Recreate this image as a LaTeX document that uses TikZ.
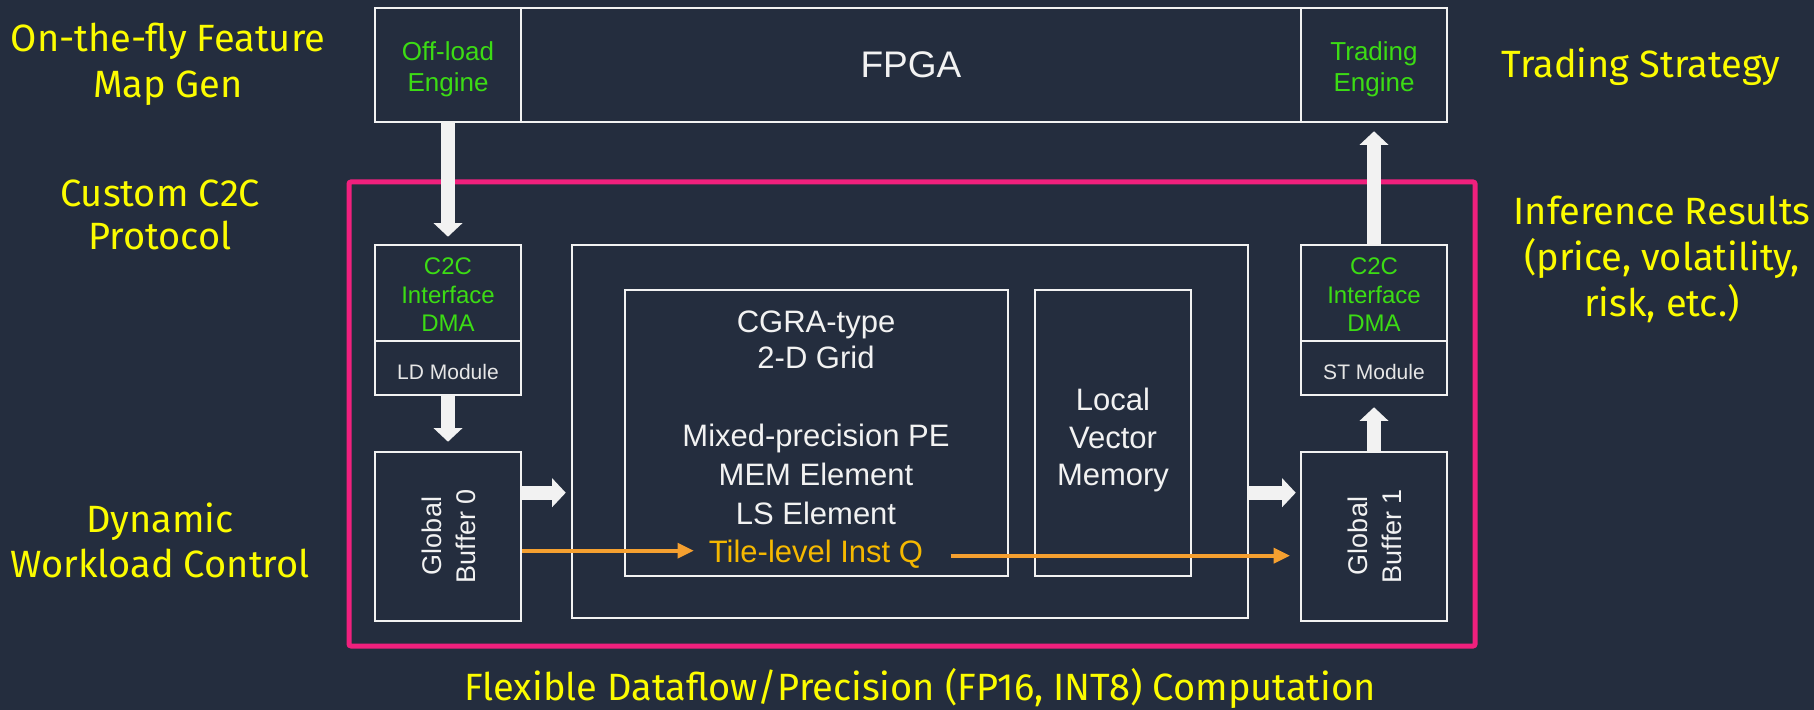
\documentclass[tikz,border=0pt]{standalone}
\usepackage{fontspec}
\setmainfont{Liberation Sans}
\newfontfamily\labelfont{Fira Sans}
\usetikzlibrary{arrows.meta}

\definecolor{bgnavy}{RGB}{36,45,62}
\definecolor{linewhite}{RGB}{242,242,242}
\definecolor{softwhite}{RGB}{230,230,230}
\definecolor{pinkc}{RGB}{240,32,125}
\definecolor{greenc}{RGB}{60,220,20}
\definecolor{yellowc}{RGB}{252,252,0}
\definecolor{orangec}{RGB}{245,160,48}
\definecolor{goldc}{RGB}{245,184,0}

\newcommand{\fsz}[2]{\fontsize{#1}{#2}\selectfont}

\begin{document}
\begin{tikzpicture}[x=0.5pt,y=-0.5pt,
  box/.style={draw=linewhite, line width=1.3pt, inner sep=0pt, align=center},
  wtext/.style={text=linewhite, inner sep=0pt, align=center},
  gtext/.style={text=greenc, inner sep=0pt, align=center},
  ylabel/.style={text=yellowc, inner sep=0pt, align=center},
  blockarrow/.style={draw=linewhite, line width=7pt,
    -{Triangle[width=14.5pt,length=6.8pt,line width=0pt]}},
  orangearrow/.style={draw=orangec, line width=2pt,
    -{Triangle[width=8pt,length=8pt,line width=0pt]}}
]
% canvas
\fill[bgnavy] (0,0) rectangle (1814,710);
\useasboundingbox (0,0) rectangle (1814,710);

% accelerator boundary
\draw[pinkc, line width=2.5pt, rounded corners=1pt] (349,182) rectangle (1475,646);

% FPGA row
\node[box, minimum width=536pt, minimum height=57pt, text=linewhite,
      font=\fsz{18.5}{22}] (fpga) at (911,65) {FPGA};
\node[box, minimum width=73pt, minimum height=57pt] (offload) at (448,65) {};
\node[gtext, font=\fsz{13}{15.5}] (offloadtext) at (448,69) {Off-load\\Engine};
\node[box, minimum width=73pt, minimum height=57pt] (trading) at (1374,65) {};
\node[gtext, font=\fsz{13}{15.5}] (tradingtext) at (1374,69) {Trading\\Engine};

% load side
\node[box, minimum width=73pt, minimum height=48pt] (c2cL) at (448,293) {};
\node[gtext, font=\fsz{12}{14.25}] (c2cLtext) at (448,295) {C2C\\Interface\\DMA};
\node[box, minimum width=73pt, minimum height=27pt] (ldmod) at (448,368) {};
\node[wtext, text=softwhite, font=\fsz{10.5}{12}] (ldtext) at (448,372) {LD Module};
\node[box, minimum width=73pt, minimum height=84.5pt] (gb0) at (448,536.5) {};
\node[wtext, rotate=90, font=\fsz{13.5}{17}] (gb0text) at (449,536) {Global\\Buffer 0};

% store side
\node[box, minimum width=73pt, minimum height=48pt] (c2cR) at (1374,293) {};
\node[gtext, font=\fsz{12}{14.25}] (c2cRtext) at (1374,295) {C2C\\Interface\\DMA};
\node[box, minimum width=73pt, minimum height=27pt] (stmod) at (1374,368) {};
\node[wtext, text=softwhite, font=\fsz{10.5}{12}] (sttext) at (1374,372) {ST Module};
\node[box, minimum width=73pt, minimum height=84.5pt] (gb1) at (1374,536.5) {};
\node[wtext, rotate=90, font=\fsz{13.5}{17}] (gb1text) at (1375,536) {Global\\Buffer 1};

% compute tile
\node[box, minimum width=338pt, minimum height=186.5pt] (big) at (910,431.5) {};
\node[box, minimum width=191.5pt, minimum height=143pt] (cgra) at (816.5,433) {};
\node[box, minimum width=78pt, minimum height=143pt] (lvm) at (1113,433) {};
\node[wtext, font=\fsz{15.5}{18.8}] (lvmtext) at (1113,440) {Local\\Vector\\Memory};
\node[wtext, font=\fsz{15.5}{18}] (cgratop) at (816,340) {CGRA-type\\2-D Grid};
\node[wtext, font=\fsz{15.5}{19.5}] (cgramid) at (816,474)
      {Mixed-precision PE\\MEM Element\\LS Element};
\node[inner sep=0pt, text=goldc, font=\fsz{15.5}{18}] (tile) at (816,554) {Tile-level Inst Q};

% side annotations
\node[ylabel, font=\labelfont\fsz{19}{23}] (lblfeat) at (168,64) {On-the-fly Feature\\Map Gen};
\node[ylabel, font=\labelfont\fsz{19}{21.5}] (lblc2c) at (160,215) {Custom C2C\\Protocol};
\node[ylabel, font=\labelfont\fsz{19}{22.5}] (lbldyn) at (160,540) {Dynamic\\Workload Control};
\node[ylabel, font=\labelfont\fsz{19}{23}] (lbltrade) at (1641,67) {Trading Strategy};
\node[ylabel, font=\labelfont\fsz{19}{23}] (lblinf) at (1662,259)
      {Inference Results\\(price, volatility,\\risk, etc.)};
\node[ylabel, font=\labelfont\fsz{19}{23}, anchor=base] (lblflex) at (920,700)
      {Flexible Dataflow/Precision (FP16, INT8) Computation};

% data movement
\draw[blockarrow, shorten >=3.5pt] (offload.south) -- (c2cL.north);
\draw[blockarrow, shorten >=4.5pt] (ldmod.south) -- (gb0.north);
\coordinate (gbout) at ([yshift=-21pt]gb0.north east);
\draw[blockarrow, shorten >=2.5pt] (gbout) -- (gbout -| big.west);
\coordinate (bigout) at (big.east |- gbout);
\draw[blockarrow, shorten >=2pt] (bigout) -- (bigout -| gb1.west);
\draw[blockarrow, shorten >=5.5pt] (gb1.north) -- (stmod.south);
\draw[blockarrow, shorten >=4pt] (c2cR.north) -- (trading.south);

% instruction queue path
\coordinate (iqin) at ([yshift=-50pt]gb0.north east);
\draw[orangearrow, shorten >=7.5pt] (iqin) -- (iqin -| tile.west);
\coordinate (iqout) at ([yshift=-52.5pt]gb0.north east -| tile.east);
\draw[orangearrow, shorten >=5pt] ([xshift=13.5pt]iqout) -- (iqout -| gb1.west);
\end{tikzpicture}
\end{document}
